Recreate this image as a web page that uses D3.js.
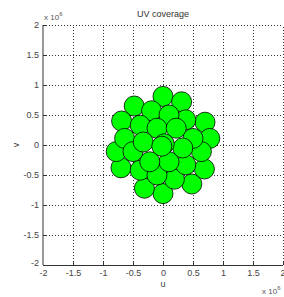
<!DOCTYPE html>
<html lang="en">
<head>
    <meta charset="UTF-8">
    <title>UV coverage</title>
    <script src="https://cdn.jsdelivr.net/npm/d3@7"></script>
    <style>
        body { margin: 0; background: #fff; }
        text { font-family: "Liberation Sans", Arial, sans-serif; }
    </style>
</head>
<body>
    <svg width="284" height="297" id="mainsvg"></svg>
    <script>
        // uv points, units of 1e6
        const uVals = [0.00, 0.00, 0.31, -0.31, -0.48, 0.48, -0.69, 0.69, 0.70, -0.70,
                       0.78, -0.78, -0.64, 0.64, 0.38, -0.38, -0.19, 0.19, 0.10, -0.10,
                       -0.38, 0.38, -0.10, 0.10, 0.22, -0.22, 0.50, -0.50, -0.33, 0.33,
                       0.02, -0.02]
        const vVals = [0.81, -0.81, 0.72, -0.72, 0.65, -0.65, 0.40, -0.40, 0.38, -0.38,
                       0.11, -0.11, 0.11, -0.11, 0.42, -0.42, 0.57, -0.57, 0.50, -0.50,
                       0.33, -0.33, 0.28, -0.28, 0.28, -0.28, 0.11, -0.11, 0.05, -0.05,
                       0.02, -0.02]
        const dishRadius = 0.167
        const tickVals = [-2, -1.5, -1, -0.5, 0, 0.5, 1, 1.5, 2]
        const tickLabels = ['-2', '-1.5', '-1', '-0.5', '0', '0.5', '1', '1.5', '2']

        const svg = d3.select('#mainsvg')
        const margin = {top: 25, left: 43}
        const innerWidth = 240
        const innerHeight = 240

        const xScale = d3.scaleLinear().domain([-2, 2]).range([margin.left, margin.left + innerWidth])
        const yScale = d3.scaleLinear().domain([-2, 2]).range([margin.top + innerHeight, margin.top])

        const fmt = (d, i) => tickLabels[i]

        // grid
        svg.append('g')
            .attr('class', 'grid')
            .attr('transform', `translate(0,${margin.top + innerHeight})`)
            .call(d3.axisBottom(xScale).tickValues(tickVals).tickSize(-innerHeight).tickFormat(''))
        svg.append('g')
            .attr('class', 'grid')
            .attr('transform', `translate(${margin.left},0)`)
            .call(d3.axisLeft(yScale).tickValues(tickVals).tickSize(-innerWidth).tickFormat(''))
        svg.selectAll('.grid .domain').remove()
        svg.selectAll('.grid text').remove()
        svg.selectAll('.grid .tick line')
            .attr('stroke', '#333')
            .attr('stroke-width', 1)
            .attr('stroke-dasharray', '1,2')
            .attr('shape-rendering', 'crispEdges')

        // circles
        const pts = uVals.map((u, i) => ({u: u, v: vVals[i]}))
        const r = xScale(dishRadius) - xScale(0)
        svg.append('g').selectAll('circle').data(pts).join('circle')
            .attr('cx', d => xScale(d.u))
            .attr('cy', d => yScale(d.v))
            .attr('r', r)
            .attr('fill', '#00ff00')
            .attr('stroke', '#000')
            .attr('stroke-width', 0.8)

        // axes
        const xAxis = svg.append('g')
            .attr('transform', `translate(0,${margin.top + innerHeight})`)
            .call(d3.axisBottom(xScale).tickValues(tickVals).tickSize(-3).tickPadding(5).tickFormat(fmt))
        const yAxis = svg.append('g')
            .attr('transform', `translate(${margin.left},0)`)
            .call(d3.axisLeft(yScale).tickValues(tickVals).tickSize(-3).tickPadding(4).tickFormat(fmt))

        xAxis.select('.domain').attr('stroke', '#333').attr('stroke-width', 1).attr('d', `M${margin.left},0.5H${margin.left + innerWidth}`)
        yAxis.select('.domain').attr('stroke', '#999').attr('stroke-width', 2).attr('d', `M0,${margin.top}V${margin.top + innerHeight}`)
        xAxis.selectAll('.tick line').attr('stroke', '#333')
        yAxis.selectAll('.tick line').attr('stroke', '#333')
        xAxis.selectAll('.tick text').attr('font-size', 9).attr('fill', '#444')
        yAxis.selectAll('.tick text').attr('font-size', 9).attr('fill', '#444')
        yAxis.selectAll('.tick text').filter(d => d === -2).attr('dy', '0.1em')
        xAxis.selectAll('.tick text').filter(d => d === 2).attr('text-anchor', 'end').attr('dx', 2)

        // labels
        svg.append('text').attr('x', 163).attr('y', 17).attr('text-anchor', 'middle')
            .attr('font-size', 9).attr('fill', '#333').text('UV coverage')
        svg.append('text').attr('x', 163).attr('y', 287).attr('text-anchor', 'middle')
            .attr('font-size', 9).attr('fill', '#444').text('u')
        svg.append('text').attr('transform', 'translate(19,145) rotate(-90)').attr('text-anchor', 'middle')
            .attr('font-size', 9).attr('fill', '#444').text('v')

        const exp1 = svg.append('text').attr('x', 44).attr('y', 20).attr('font-size', 8).attr('fill', '#555')
        exp1.append('tspan').text('x 10')
        exp1.append('tspan').attr('dy', -4).attr('font-size', 6).text('6')
        const exp2 = svg.append('text').attr('x', 262).attr('y', 294).attr('font-size', 8).attr('fill', '#555')
        exp2.append('tspan').text('x 10')
        exp2.append('tspan').attr('dy', -4).attr('font-size', 6).text('6')
    </script>
</body>
</html>
